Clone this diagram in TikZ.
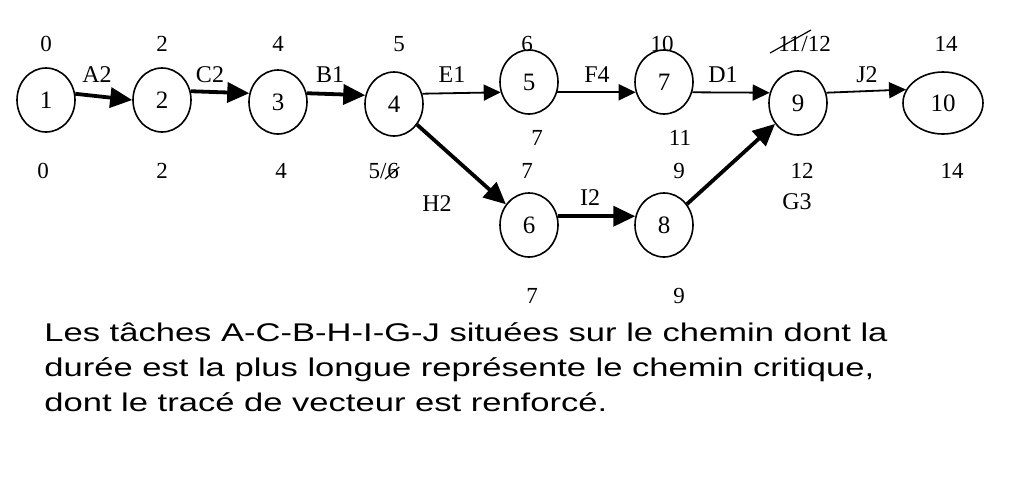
\documentclass[tikz,border=0pt]{standalone}
\usepackage{fontspec}
\setmainfont{Liberation Serif}
\newfontfamily\textefont[FakeStretch=1.35]{Liberation Sans}
\usetikzlibrary{arrows.meta,shapes.geometric}

\begin{document}
\begin{tikzpicture}[x=0.5pt,y=-0.5pt,
  etape/.style={draw,ellipse,line width=0.8pt,minimum width=29pt,minimum height=32pt,inner sep=0pt,font=\fontsize{12.5}{14}\selectfont},
  date/.style={inner sep=0pt,font=\fontsize{11.5}{13}\selectfont},
  tache/.style={inner sep=0pt,font=\fontsize{12}{14}\selectfont},
  fleche/.style={-{Triangle[length=8.5pt,width=8pt]},line width=0.9pt},
  critique/.style={-{Triangle[length=11pt,width=10pt]},line width=1.9pt}]
  \useasboundingbox (0,0) rectangle (1012,483);
  % les etapes
  \node[etape] (n1) at (46,100) {1};
  \node[etape] (n2) at (162,100) {2};
  \node[etape] (n3) at (278,102) {3};
  \node[etape] (n4) at (394,104) {4};
  \node[etape] (n5) at (529,82) {5};
  \node[etape] (n7) at (664,82) {7};
  \node[etape] (n9) at (798,103) {9};
  \node[etape,minimum width=40pt,minimum height=31pt] (n10) at (943,103) {10};
  \node[etape] (n6) at (529,225) {6};
  \node[etape] (n8) at (664,225) {8};
  % les taches
  \draw[critique] (n1.12) -- (n2.west);
  \draw[critique] (n2.17) -- (n3.163);
  \draw[critique] (n3.17) -- (n4.163);
  \draw[fleche] (n4.20) -- (n5.200);
  \draw[fleche] (n5.-20) -- (n7.200);
  \draw[fleche] (n7.-20) -- (n9.160);
  \draw[fleche] (n9.20) -- (n10.160);
  \draw[critique] (n4) -- (n6);
  \draw[critique] (n6.17) -- (n8.163);
  \draw[critique] (n8) -- (n9);
  \node[tache] (tA) at (97,75) {A2};
  \node[tache] (tC) at (210,75) {C2};
  \node[tache] (tB) at (330,75) {B1};
  \node[tache] (tE) at (452,75) {E1};
  \node[tache] (tF) at (597,75) {F4};
  \node[tache] (tD) at (723,75) {D1};
  \node[tache] (tJ) at (867,75) {J2};
  \node[tache] (tH) at (437,204) {H2};
  \node[tache] (tI) at (590,198) {I2};
  \node[tache] (tG) at (797,202) {G3};
  % dates au plus tot
  \node[date] (tot1) at (46,44) {0};
  \node[date] (tot2) at (162,44) {2};
  \node[date] (tot3) at (278,44) {4};
  \node[date] (tot4) at (399,44) {5};
  \node[date] (tot5) at (527,44) {6};
  \node[date] (tot7) at (662,44) {10};
  \node[date,anchor=east] (tot9a) at (801,44) {11};
  \node[date,anchor=west] (tot9b) at (tot9a.east) {/12};
  \draw[line width=0.6pt] ([xshift=-4pt,yshift=-0.5pt]tot9a.south west) -- ([xshift=5pt,yshift=3pt]tot9a.north east);
  \node[date] (tot10) at (946,44) {14};
  \node[date] (tot6) at (527,171) {7};
  \node[date] (tot8) at (679,171) {9};
  % dates au plus tard
  \node[date] (tard1) at (43,171) {0};
  \node[date] (tard2) at (162,171) {2};
  \node[date] (tard3) at (281,171) {4};
  \node[date,anchor=east] (tard4a) at (387,171) {5/};
  \node[date,anchor=west] (tard4b) at (tard4a.east) {6};
  \draw[line width=0.6pt] ([xshift=-1pt]tard4b.south west) -- ([yshift=-2pt]tard4b.north east);
  \node[date] (tard5) at (537,138) {7};
  \node[date] (tard7) at (680,138) {11};
  \node[date] (tard9) at (802,171) {12};
  \node[date] (tard10) at (952,171) {14};
  \node[date] (tard6) at (532,296) {7};
  \node[date] (tard8) at (679,296) {9};
  % commentaire
  \node[anchor=north west,align=left,inner sep=0pt,font=\textefont\fontsize{12.8}{17.5}\selectfont] (texte) at (44,322)
    {Les tâches A-C-B-H-I-G-J situées sur le chemin dont la\\
     durée est la plus longue représente le chemin critique,\\
     dont le tracé de vecteur est renforcé.};
\end{tikzpicture}
\end{document}
